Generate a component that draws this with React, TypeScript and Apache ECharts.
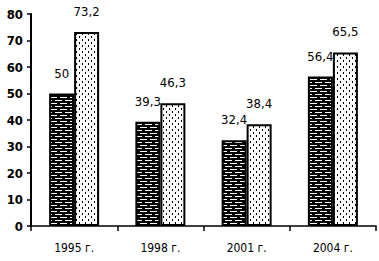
import React, { useEffect, useRef } from "react";
import * as echarts from "echarts";

const categories = ["1995 г.", "1998 г.", "2001 г.", "2004 г."];
const seriesA = [50, 39.3, 32.4, 56.4];
const seriesB = [73.2, 46.3, 38.4, 65.5];
const yTicks = [0, 80, 10];

const FONT = "'DejaVu Sans Condensed', 'Liberation Sans Narrow', 'Arial Narrow', 'Liberation Sans', Arial, sans-serif";

function brickPattern(): string {
  const c = document.createElement("canvas");
  c.width = 10;
  c.height = 6;
  const g = c.getContext("2d")!;
  g.fillStyle = "#000";
  g.fillRect(0, 0, 10, 6);
  g.fillStyle = "#fff";
  g.fillRect(0, 1, 7, 1);
  g.fillRect(5, 4, 5, 1);
  g.fillRect(0, 4, 2, 1);
  return c.toDataURL();
}

function dotPattern(): string {
  const c = document.createElement("canvas");
  c.width = 6;
  c.height = 6;
  const g = c.getContext("2d")!;
  g.fillStyle = "#fff";
  g.fillRect(0, 0, 6, 6);
  g.fillStyle = "#000";
  g.fillRect(1, 0, 1, 2);
  g.fillRect(4, 3, 1, 2);
  return c.toDataURL();
}

const fmt = (p: any) => String(p.value).replace(".", ",");

export default function App() {
  const ref = useRef<HTMLDivElement>(null);
  useEffect(() => {
    const chart = echarts.init(ref.current!, undefined, { renderer: "svg" });
    const labelStyle = {
      show: true,
      position: "top" as const,
      distance: 14,
      formatter: fmt,
      color: "#000",
      fontSize: 13,
      fontFamily: FONT,
    };
    chart.setOption({
      animation: false,
      backgroundColor: "#fff",
      grid: { left: 31, right: 3, top: 14, bottom: 35 },
      xAxis: {
        type: "category",
        data: categories,
        axisLine: { lineStyle: { color: "#000", width: 1.5 } },
        axisTick: { show: true, length: 5, lineStyle: { color: "#000", width: 1.5 } },
        axisLabel: { color: "#000", fontSize: 12, fontFamily: FONT, margin: 16 },
      },
      yAxis: {
        type: "value",
        min: yTicks[0],
        max: yTicks[1],
        interval: yTicks[2],
        splitLine: { show: false },
        axisLine: { show: true, lineStyle: { color: "#000", width: 2 } },
        axisTick: { show: true, length: 4, lineStyle: { color: "#000", width: 1.5 } },
        axisLabel: {
          color: "#000",
          fontSize: 13,
          fontWeight: "bold",
          fontFamily: FONT,
          margin: 8,
        },
      },
      series: [
        {
          type: "bar",
          data: seriesA,
          barWidth: 25,
          barGap: "0%",
          itemStyle: {
            color: { image: brickPattern(), repeat: "repeat" },
            borderColor: "#000",
            borderWidth: 2,
          },
          label: labelStyle,
        },
        {
          type: "bar",
          data: seriesB,
          barWidth: 25,
          itemStyle: {
            color: { image: dotPattern(), repeat: "repeat" },
            borderColor: "#000",
            borderWidth: 2,
          },
          label: labelStyle,
        },
      ],
    });
    return () => chart.dispose();
  }, []);
  return (
    <div style={{ position: "fixed", left: 0, top: 0, width: 379, height: 261, background: "#fff" }}>
      <div ref={ref} style={{ width: 379, height: 261 }} />
    </div>
  );
}
